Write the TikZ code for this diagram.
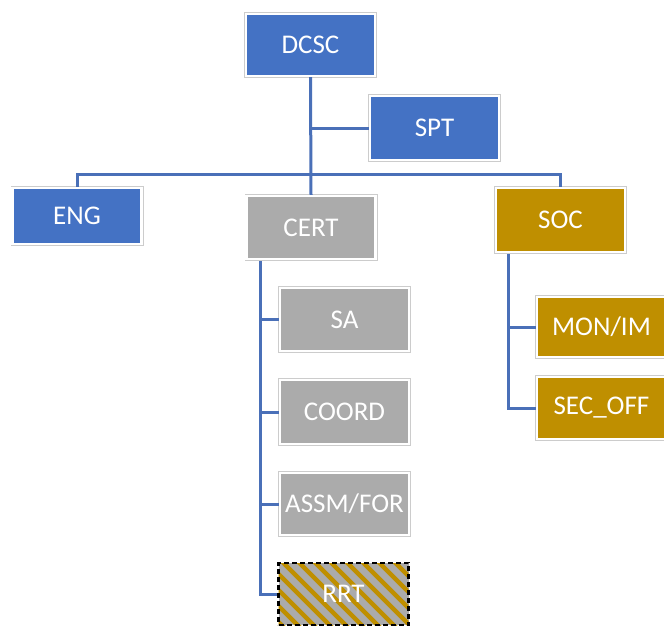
\documentclass[tikz,border=0pt]{standalone}
\usepackage{fontspec}
\setmainfont{Carlito}
\usetikzlibrary{calc}
\definecolor{cblue}{HTML}{4472C4}
\definecolor{cgray}{HTML}{ABABAB}
\definecolor{cgold}{HTML}{BF8F00}
\definecolor{cline}{HTML}{4A70B8}
\tikzset{
  orgbox/.style={rectangle, draw=white, line width=2.2pt,
    preaction={draw=black!20, line width=4pt},
    minimum width=129pt, minimum height=#1, inner sep=0pt,
    text=white, font=\fontsize{27}{31}\selectfont},
  orgbox/.default=62pt,
  conn/.style={draw=cline, line width=3pt}
}
\begin{document}
\begin{tikzpicture}[x=1pt,y=-1pt]
\clip (0,0) rectangle (664,626);
\fill[white] (0,0) rectangle (664,626);
% nodes
\node[orgbox, fill=cblue] (dcsc) at (310.5,45) {DCSC};
\node[orgbox=64pt, fill=cblue] (spt) at (434.5,128) {SPT};
\node[orgbox=56pt, fill=cblue] (eng) at (77,216) {ENG};
\node[orgbox=63pt, fill=cgray] (cert) at (311,227.5) {CERT};
\node[orgbox=64pt, fill=cgold] (soc) at (560.5,220) {SOC};
\node[orgbox=60pt, fill=cgold] (mon) at (601.5,327) {MON/IM};
\node[orgbox=62pt, fill=cgold] (sec) at (601.5,408) {SEC\_OFF};
\node[orgbox=63pt, fill=cgray] (sa) at (344.5,319.5) {SA};
\node[orgbox=64pt, fill=cgray] (coord) at (344.5,412) {COORD};
\node[orgbox=62pt, fill=cgray] (assm) at (344.5,504) {ASSM/FOR};
\node[rectangle, fill=cgray, draw=black, dash pattern=on 5pt off 3pt, line width=2.2pt,
  minimum width=130pt, minimum height=62pt, inner sep=0pt,
  path picture={
    \foreach \i in {-8,...,14}
      \draw[cgold, line width=4.5pt, solid]
        ($(path picture bounding box.north west)+(\i*16,-5)$) -- ++(90,90);
  }] (rrt) at (343.5,594) {};
\node[text=white, font=\fontsize{27}{31}\selectfont] (rrtlabel) at (rrt.center) {RRT};
% connectors
\coordinate (bus) at (311,174);
\coordinate (cv) at (260,261);
\coordinate (sv) at (508,254);
\draw[conn] (dcsc.south) -- (cert.north);
\draw[conn] (dcsc.south |- spt.west) -- (spt.west);
\draw[conn] (eng.north) |- (bus) -| (soc.north);
\draw[conn] (cv) |- (sa.west);
\draw[conn] (cv) |- (coord.west);
\draw[conn] (cv) |- (assm.west);
\draw[conn] (cv) |- (rrt.west);
\draw[conn] (sv) |- (mon.west);
\draw[conn] (sv) |- (sec.west);
\end{tikzpicture}
\end{document}
